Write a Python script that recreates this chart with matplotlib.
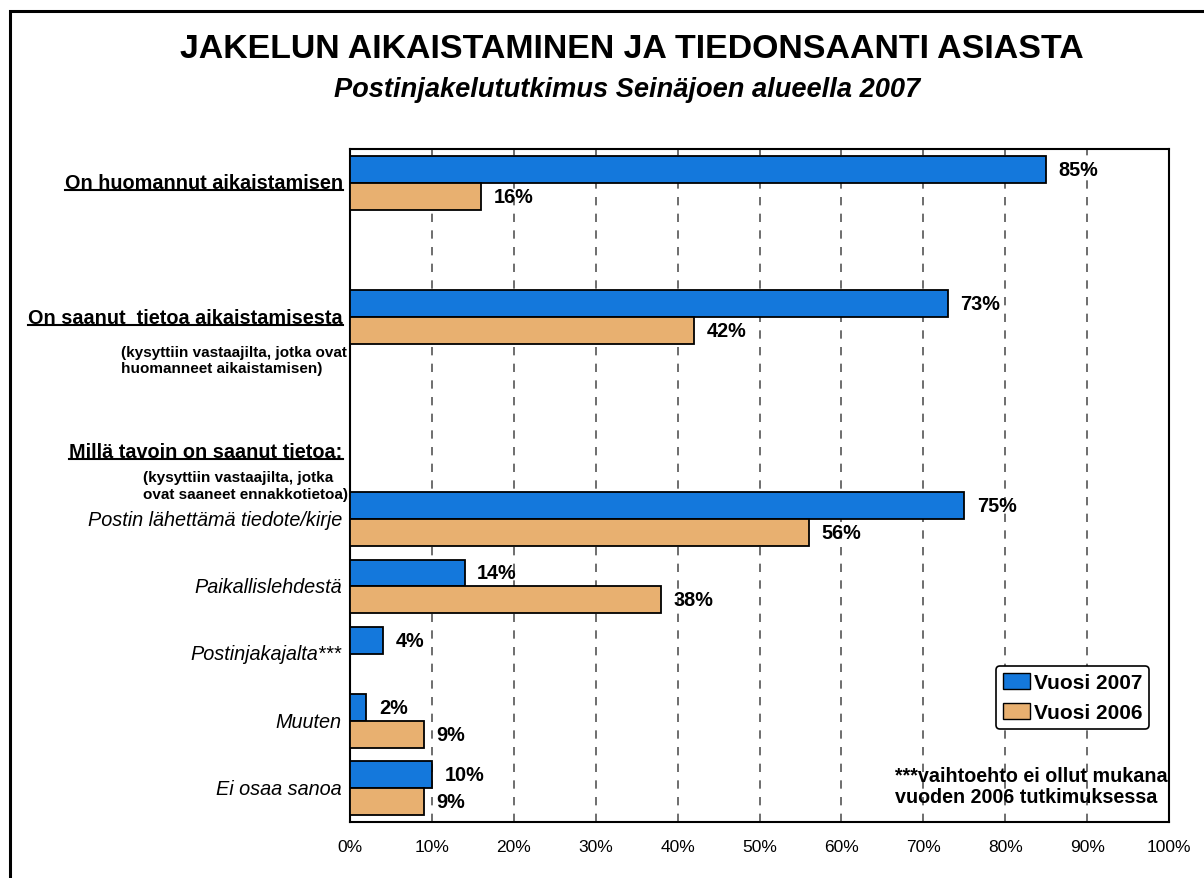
import matplotlib
matplotlib.use("Agg")
import matplotlib.pyplot as plt
from matplotlib.patches import Rectangle, Patch
from matplotlib.lines import Line2D
import numpy as np

plt.rcParams['font.family'] = ['Liberation Sans', 'DejaVu Sans']

# data ------
slots = [0, 2, 5, 6, 7, 8, 9]          # rivit (tyhjät rivit 1, 3, 4 väliotsikoille)
v2007 = [85, 73, 75, 14, 4, 2, 10]
v2006 = [16, 42, 56, 38, None, 9, 9]
italic_labels = ['Postin lähettämä tiedote/kirje', 'Paikallislehdestä',
                 'Postinjakajalta***', 'Muuten', 'Ei osaa sanoa']
ticks = list(range(0, 101, 10))
tick_labels = ['%d%%' % t for t in ticks]

blue = '#1478DC'
orange = '#E8B070'

fig = plt.figure(figsize=(12.04, 8.79), dpi=100)
ax = fig.add_axes([350/1204, 1-823/879, 819/1204, 673/879])

h = 0.4
y = np.array(slots, dtype=float)
ax.barh(y - h/2, v2007, height=h, color=blue, edgecolor='black', linewidth=1.3, zorder=3)
o_y = [yy + h/2 for yy, v in zip(y, v2006) if v is not None]
o_v = [v for v in v2006 if v is not None]
ax.barh(o_y, o_v, height=h, color=orange, edgecolor='black', linewidth=1.3, zorder=3)

# arvot ------
for yy, v in zip(y, v2007):
    ax.annotate('%d%%' % v, (v, yy - h/2), xytext=(9, 0), textcoords='offset points',
                va='center', ha='left', fontsize=14.3, fontweight='bold', zorder=4)
for yy, v in zip(o_y, o_v):
    ax.annotate('%d%%' % v, (v, yy), xytext=(9, 0), textcoords='offset points',
                va='center', ha='left', fontsize=14.3, fontweight='bold', zorder=4)

ax.set_xlim(0, 100)
ax.set_ylim(9.5, -0.5)
ax.set_xticks(ticks)
ax.set_xticklabels(tick_labels, fontsize=12.5)
ax.tick_params(axis='x', length=0, pad=12)
ax.set_yticks([])
ax.set_axisbelow(True)
ax.grid(axis='x', color='#555555', linestyle=(0, (5, 5)), linewidth=1.2)
for s in ax.spines.values():
    s.set_linewidth(1.5)

# rivien otsikot ------
lx = -0.9
under = []
under.append(ax.text(lx, 0, 'On huomannut aikaistamisen', ha='right', va='center',
                     fontsize=14.3, fontweight='bold', clip_on=False))
under.append(ax.text(lx, 2, 'On saanut  tietoa aikaistamisesta', ha='right', va='center',
                     fontsize=14.3, fontweight='bold', clip_on=False))
ax.text(-27.9, 2.63, '(kysyttiin vastaajilta, jotka ovat\nhuomanneet aikaistamisen)',
        ha='left', va='center', fontsize=11, fontweight='bold', linespacing=1.2, clip_on=False)
under.append(ax.text(lx, 4, 'Millä tavoin on saanut tietoa:', ha='right', va='center',
                     fontsize=14.3, fontweight='bold', clip_on=False))
ax.text(-25.3, 4.5, '(kysyttiin vastaajilta, jotka\novat saaneet ennakkotietoa)',
        ha='left', va='center', fontsize=11, fontweight='bold', linespacing=1.2, clip_on=False)
for yy, lab in zip(slots[2:], italic_labels):
    ax.text(-1.0, yy, lab, ha='right', va='center', fontsize=14.3, style='italic', clip_on=False)

# selite ------
handles = [Patch(facecolor=blue, edgecolor='black', label='Vuosi 2007'),
           Patch(facecolor=orange, edgecolor='black', label='Vuosi 2006')]
leg = ax.legend(handles=handles, loc='lower right', bbox_to_anchor=(0.976, 0.138),
                borderaxespad=0, prop={'weight': 'bold', 'size': 15}, frameon=True,
                fancybox=True, edgecolor='black', framealpha=1, handlelength=1.3,
                handleheight=0.8, handletextpad=0.15, borderpad=0.35, labelspacing=0.5)
leg.get_frame().set_linewidth(1.2)
leg.set_zorder(5)

ax.text(0.665, 0.0535, '***vaihtoehto ei ollut mukana\nvuoden 2006 tutkimuksessa',
        transform=ax.transAxes, ha='left', va='center', fontsize=14.2,
        fontweight='bold', linespacing=1.15)

# otsikot ------
fig.text(631.5/1204, 1-50/879, 'JAKELUN AIKAISTAMINEN JA TIEDONSAANTI ASIASTA',
         ha='center', va='center', fontsize=24.4, fontweight='bold')
fig.text(627/1204, 1-90/879, 'Postinjakelututkimus Seinäjoen alueella 2007',
         ha='center', va='center', fontsize=19.6, fontweight='bold', style='italic')

# kehys ------
fig.patches.append(Rectangle((10/1204, -0.05), 1.2, 1-12/879+0.05, transform=fig.transFigure,
                             fill=False, edgecolor='black', linewidth=2.2))

# alleviivaukset ------
fig.canvas.draw()
r = fig.canvas.get_renderer()
for t in under:
    bb = t.get_window_extent(r)
    yline = bb.y0 + 2
    fig.add_artist(Line2D([bb.x0 / 1204, bb.x1 / 1204], [yline / 879, yline / 879],
                          transform=fig.transFigure, color='black', linewidth=1.5))

fig.savefig('out.png', dpi=100)
